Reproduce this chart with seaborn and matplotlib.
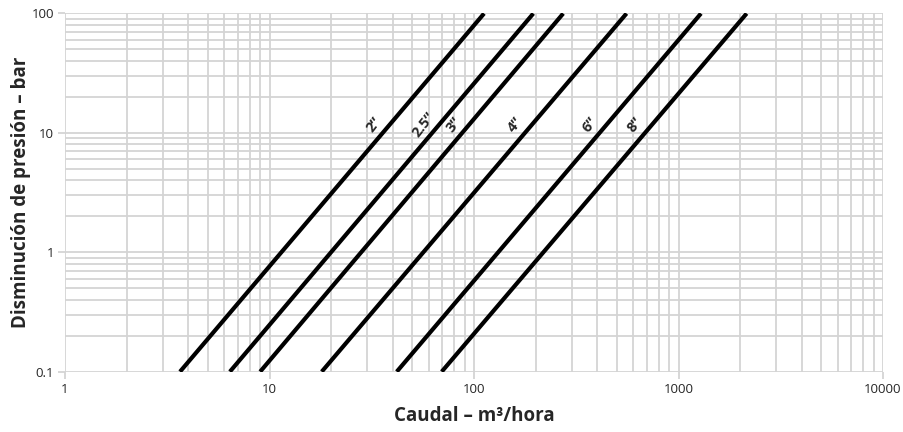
import matplotlib
matplotlib.use("Agg")
import matplotlib.pyplot as plt
import matplotlib.ticker as mticker
import seaborn as sns
import pandas as pd

# pipe sizes and flow (m3/h) where each line hits 0.1 bar and 100 bar
sizes = ['2”', '2.5”', '3”', '4”', '6”', '8”']
flow_at_low = [3.65, 6.4, 9.0, 18.0, 41.9, 69.5]
flow_at_high = [112, 195, 273, 557, 1288, 2154]
drop_low = 0.1
drop_high = 100

x_ticks = [1, 10, 100, 1000, 10000]
y_ticks = [0.1, 1, 10, 100]

rows = []
for s, lo, hi in zip(sizes, flow_at_low, flow_at_high):
    rows.append({'size': s, 'caudal': lo, 'bar': drop_low})
    rows.append({'size': s, 'caudal': hi, 'bar': drop_high})
df = pd.DataFrame(rows)

sns.set_style("white")
plt.rcParams['font.family'] = ['Open Sans', 'DejaVu Sans']

fig = plt.figure(figsize=(9.04, 4.32), dpi=100)
ax = fig.add_axes([0.0719, 0.1396, 0.9049, 0.8292])
ax.set_xscale('log')
ax.set_yscale('log')
ax.set_xlim(1, 10000)
ax.set_ylim(0.1, 100)

grid_c = '#d4d4d4'
ax.grid(True, which='both', color=grid_c, linewidth=1.3)
ax.set_axisbelow(True)
for sp in ax.spines.values():
    sp.set_visible(False)

sns.lineplot(data=df, x='caudal', y='bar', hue='size', units='size', estimator=None,
             palette={s: 'black' for s in sizes}, linewidth=3.0, legend=False,
             solid_capstyle='butt', ax=ax)

# labels just left of each line, near 12 bar
label_y = 11.7
for s, lo in zip(sizes, flow_at_low):
    x_on_line = lo * (label_y / drop_low) ** 0.5
    ax.annotate(s, xy=(x_on_line, label_y), xytext=(-18, 0), textcoords='offset pixels',
                ha='center', va='center', rotation=52, fontsize=10.5, fontweight='bold')

ax.xaxis.set_major_locator(mticker.FixedLocator(x_ticks))
ax.yaxis.set_major_locator(mticker.FixedLocator(y_ticks))
ax.xaxis.set_major_formatter(mticker.FuncFormatter(lambda v, p: f'{v:g}'))
ax.yaxis.set_major_formatter(mticker.FuncFormatter(lambda v, p: f'{v:g}'))
ax.tick_params(which='major', length=5, width=1.3, color=grid_c, pad=3,
               bottom=True, left=True)
ax.tick_params(which='minor', length=0)
for lab in ax.get_xticklabels() + ax.get_yticklabels():
    lab.set_fontsize(9.5)

ax.set_xlabel('Caudal – m³/hora', fontsize=13.5, fontweight='bold', labelpad=7)
ax.set_ylabel('Disminución de presión – bar', fontsize=13.5, fontweight='bold', labelpad=0)

fig.savefig('out.png', dpi=100)
